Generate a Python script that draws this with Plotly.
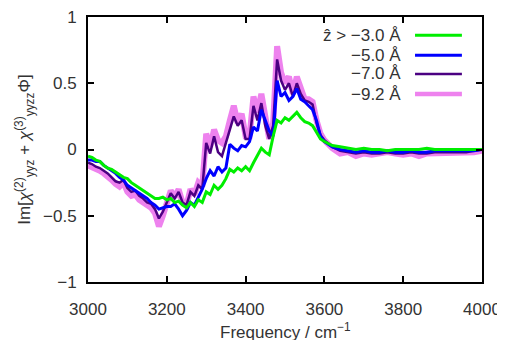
import plotly.graph_objects as go

freq = list(range(3000, 3601, 10)) + list(range(3620, 4001, 20))

z30 = [-0.05, -0.06, -0.08, -0.09, -0.12, -0.14, -0.15, -0.17, -0.19, -0.21,
       -0.22, -0.25, -0.27, -0.29, -0.31, -0.33, -0.35, -0.37, -0.37, -0.36,
       -0.38, -0.37, -0.40, -0.39, -0.42, -0.44, -0.40, -0.43, -0.38, -0.40,
       -0.32, -0.34, -0.27, -0.30, -0.27, -0.22, -0.15, -0.17, -0.14, -0.16,
       -0.13, -0.16, -0.10, -0.04, 0.01, -0.02, -0.04, 0.10, 0.22, 0.20,
       0.24, 0.22, 0.25, 0.28, 0.24, 0.21, 0.20, 0.18, 0.13, 0.08, 0.06,
       0.03, 0.02, 0.01, 0.00, 0.01, 0.00, 0.00, -0.01, 0.00, 0.00,
       0.00, 0.00, 0.01, 0.00, 0.00, 0.00, 0.00, 0.00, 0.00, 0.00]

z50 = [-0.08, -0.08, -0.09, -0.09, -0.12, -0.14, -0.16, -0.18, -0.21, -0.23,
       -0.27, -0.29, -0.31, -0.33, -0.35, -0.37, -0.40, -0.42, -0.45, -0.44,
       -0.43, -0.43, -0.41, -0.45, -0.50, -0.46, -0.40, -0.42, -0.36, -0.30,
       -0.22, -0.16, -0.20, -0.13, -0.17, -0.14, 0.04, 0.01, -0.01, 0.03,
       0.02, 0.06, 0.17, 0.14, 0.30, 0.22, 0.14, 0.10, 0.52, 0.40,
       0.43, 0.37, 0.40, 0.46, 0.38, 0.36, 0.33, 0.30, 0.22, 0.10, 0.06,
       0.02, 0.00, -0.01, -0.02, -0.01, -0.02, -0.02, -0.01, -0.02, -0.02,
       -0.01, -0.02, -0.02, -0.01, -0.01, -0.01, -0.01, -0.01, -0.01, 0.00]

z70 = [-0.10, -0.11, -0.13, -0.14, -0.16, -0.18, -0.21, -0.24, -0.25, -0.23,
       -0.29, -0.32, -0.31, -0.35, -0.37, -0.40, -0.41, -0.45, -0.52, -0.47,
       -0.40, -0.33, -0.37, -0.32, -0.40, -0.42, -0.32, -0.35, -0.27, -0.30,
       0.05, -0.03, 0.10, -0.02, -0.05, 0.05, 0.16, 0.25, 0.18, 0.22,
       0.08, 0.08, 0.33, 0.22, 0.35, 0.18, 0.08, 0.18, 0.68, 0.52,
       0.45, 0.50, 0.40, 0.50, 0.42, 0.37, 0.36, 0.34, 0.20, 0.11, 0.07,
       0.02, -0.01, -0.02, -0.03, -0.02, -0.03, -0.03, -0.02, -0.03, -0.03,
       -0.02, -0.03, -0.03, -0.02, -0.02, -0.02, -0.02, -0.02, -0.01, 0.00]

z92 = [-0.12, -0.13, -0.15, -0.16, -0.18, -0.20, -0.23, -0.26, -0.28, -0.25,
       -0.32, -0.35, -0.34, -0.38, -0.40, -0.43, -0.44, -0.48, -0.58, -0.50,
       -0.40, -0.31, -0.36, -0.30, -0.40, -0.42, -0.30, -0.34, -0.25, -0.28,
       0.12, 0.02, 0.15, 0.07, 0.05, 0.10, 0.22, 0.33, 0.20, 0.27,
       0.10, 0.10, 0.40, 0.28, 0.42, 0.22, 0.08, 0.20, 0.78, 0.58,
       0.50, 0.55, 0.42, 0.55, 0.46, 0.38, 0.38, 0.36, 0.22, 0.12, 0.07,
       0.01, -0.03, -0.02, -0.05, -0.03, -0.04, -0.03, -0.02, -0.03, -0.04,
       -0.03, -0.05, -0.03, -0.03, -0.02, -0.03, -0.02, -0.02, -0.02, -0.01]

labels = ["\u1e91 > \u22123.0 \u00c5", "\u22125.0 \u00c5", "\u22127.0 \u00c5", "\u22129.2 \u00c5"]
colors = ["#00ee00", "#0000ff", "#4b0082", "#ee82ee"]
widths = [3.0, 3.0, 2.5, 6.0]
series = [z30, z50, z70, z92]

xticks = [3000, 3200, 3400, 3600, 3800, 4000]
yticks = [-1, -0.5, 0, 0.5, 1]
yticktext = ["\u22121", "\u22120.5", "0", "0.5", "1"]
xtitle = "Frequency / cm<sup>\u22121</sup>"
ytitle = "Im[<i>\u03c7</i><sup>(2)</sup><sub>yyz</sub> + <i>\u03c7</i><sup>(3)</sup><sub>yyzz</sub>\u03a6]"

FONT = "Liberation Sans"
TXT = "#333333"
FS = 17

fig = go.Figure()
# draw thick pink first, then purple, blue, green on top
for i in [3, 2, 1, 0]:
    fig.add_trace(go.Scatter(x=freq, y=series[i], mode="lines", name=labels[i],
                             line=dict(color=colors[i], width=widths[i]),
                             showlegend=False))

# gnuplot-style legend: right-aligned text with sample line on the right
row_y = [0.931, 0.856, 0.785, 0.709]
for i in range(4):
    fig.add_annotation(x=0.80, y=row_y[i], xref="paper", yref="paper",
                       text=labels[i], showarrow=False, xanchor="right", yanchor="middle",
                       font=dict(family=FONT, size=FS, color=TXT))
    fig.add_shape(type="line", xref="paper", yref="paper",
                  x0=0.83, x1=0.949, y0=row_y[i], y1=row_y[i],
                  line=dict(color=colors[i], width=widths[i] if i < 3 else 4.5))

# x-axis title, placed a little lower as in the reference
fig.add_annotation(x=0.5, y=-0.185, xref="paper", yref="paper", text=xtitle,
                   showarrow=False, xanchor="center", yanchor="middle",
                   font=dict(family=FONT, size=FS, color=TXT))

# page body has an 8px margin, so the figure is sized to fit the window
fig.update_layout(
    width=497, height=332,
    margin=dict(l=80, r=23, t=9, b=58),
    paper_bgcolor="white", plot_bgcolor="white",
    font=dict(family=FONT, size=FS, color=TXT),
    xaxis=dict(range=[3000, 4000], tickvals=xticks, ticks="inside", ticklen=6,
               tickwidth=1.5, tickcolor="black", showline=True, linecolor="black",
               linewidth=2, mirror="allticks", showgrid=False, zeroline=False,
               ticklabelstandoff=11, automargin=False, ticklabeloverflow="allow"),
    yaxis=dict(range=[-1, 1], tickvals=yticks, ticktext=yticktext, ticks="inside",
               ticklen=6, tickwidth=1.5, tickcolor="black", showline=True,
               linecolor="black", linewidth=2, mirror="allticks", showgrid=False,
               zeroline=False, ticklabelstandoff=6, automargin=False,
               ticklabeloverflow="allow",
               title=dict(text=ytitle, standoff=8,
                          font=dict(family=FONT, size=FS, color=TXT))),
)

fig.write_html("out.html")
